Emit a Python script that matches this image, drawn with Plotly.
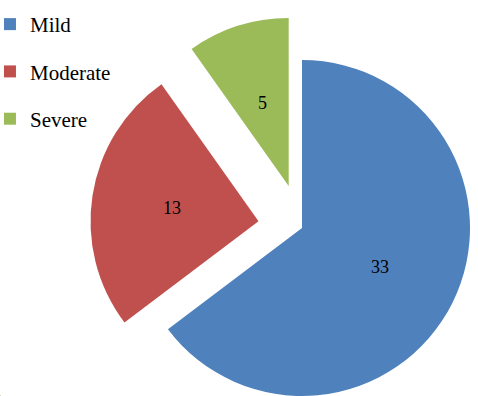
import math
import plotly.graph_objects as go

labels = ["Mild", "Moderate", "Severe"]
values = [33, 13, 5]
colors = ["#4F81BD", "#C0504D", "#9BBB59"]
explode_px = [0, 44, 44]

W, H = 478, 396
CX, CY, R = 302, 228, 168
LABEL_R = 0.52
CLEAR = "rgba(0,0,0,0)"
SERIF = "Liberation Serif"

total = sum(values)
fig = go.Figure()

start = 0.0
for i, (lab, val, col, pull) in enumerate(zip(labels, values, colors, explode_px)):
    span = val / total * 360.0
    mid = math.radians(start + span / 2.0)
    start += span
    cx = CX + pull * math.sin(mid)
    cy = CY - pull * math.cos(mid)
    dom_x = [max(0.0, (cx - R) / W), min(1.0, (cx + R) / W)]
    dom_y = [max(0.0, 1 - (cy + R) / H), min(1.0, 1 - (cy - R) / H)]
    fig.add_trace(go.Pie(
        labels=labels,
        values=values,
        marker=dict(colors=[c if j == i else CLEAR for j, c in enumerate(colors)],
                    line=dict(width=0)),
        textinfo="none",
        sort=False,
        direction="clockwise",
        rotation=0,
        domain=dict(x=dom_x, y=dom_y),
        showlegend=False,
        hoverinfo="label+value",
    ))
    # value label inside the slice
    lx = cx + LABEL_R * R * math.sin(mid)
    ly = cy - LABEL_R * R * math.cos(mid)
    fig.add_annotation(
        x=lx / W, y=1 - ly / H, xref="paper", yref="paper",
        text=str(val), showarrow=False,
        xanchor="center", yanchor="middle",
        font=dict(family=SERIF, size=18, color="black"),
    )

# legend entries
for lab, val, col in zip(labels, values, colors):
    fig.add_trace(go.Pie(
        labels=[lab],
        values=[val],
        marker=dict(colors=[col], line=dict(width=0)),
        textinfo="none",
        domain=dict(x=[0, 0.001], y=[0, 0.001]),
        legendgroup=lab,
        showlegend=True,
        hoverinfo="skip",
    ))

fig.update_layout(
    width=W, height=H,
    margin=dict(l=0, r=0, t=0, b=0, autoexpand=False),
    paper_bgcolor="white",
    plot_bgcolor="white",
    font=dict(family=SERIF, color="black"),
    showlegend=True,
    legend=dict(
        x=-0.021, y=0.99, xanchor="left", yanchor="top",
        bgcolor=CLEAR,
        font=dict(family=SERIF, size=21, color="black"),
        tracegroupgap=17,
        traceorder="grouped",
    ),
)

fig.write_html("out.html")
